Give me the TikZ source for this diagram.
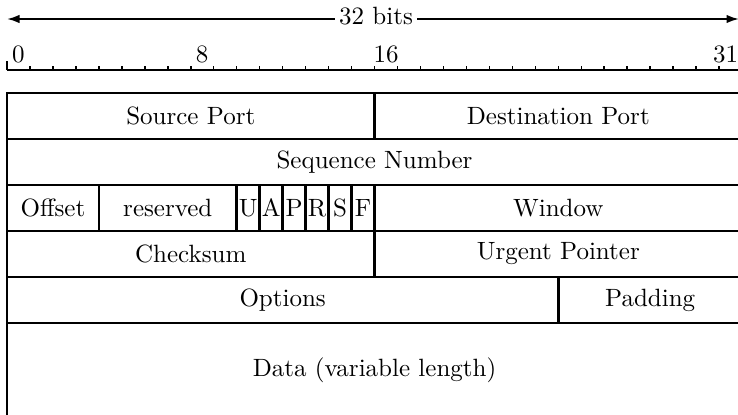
\documentclass[tikz,border=0pt]{standalone}
\usetikzlibrary{arrows.meta}

% one bit = 22.97 units (9.188pt), one header row = 46 units (18.4pt)
\newcommand\fieldbox[5]{%
  \node[cell, minimum width={#3*9.188pt}] (#1) at ({7+#2*22.97},#4) {#5};}

\begin{document}
\begin{tikzpicture}[x=0.4pt,y=-0.4pt,
  cell/.style={draw, line width=1.1pt, rectangle, inner sep=0pt, outer sep=0pt,
    anchor=north west, minimum height=18.4pt},
  rulerline/.style={line width=0.8pt},
  bittick/.style={line width=0.6pt},
  bitnum/.style={anchor=base, inner sep=0pt},
  span/.style={line width=0.8pt, -{Latex[length=5pt,width=3.4pt]}},
]
\useasboundingbox (0,0) rectangle (738,414);

% width arrow
\node[anchor=base, inner sep=1.5pt] (bits) at (376,24) {32 bits};
\coordinate (la) at (7,19);
\coordinate (ra) at (739,19);
\draw[span] (bits.west |- la) -- (la);
\draw[span] (bits.east |- ra) -- (ra);

% bit ruler
\coordinate (r0) at (7,70);
\coordinate (rend) at (760,70);
\draw[rulerline] (r0) -- (rend);
\draw[rulerline] (r0) -- ++(0,-9);
\foreach \i in {1,...,31}
  \draw[bittick] ({7+\i*22.97},70) -- ++(0,-4.5);
\foreach \k in {0,8,16}
  \node[bitnum] (n\k) at ({7+(\k+0.5)*22.97},62) {\k};
\node[bitnum] (n31) at (725.5,62) {31};

% header fields
\fieldbox{src}{0}{16}{93}{Source Port}
\fieldbox{dst}{16}{16}{93}{Destination Port}
\fieldbox{seq}{0}{32}{139}{Sequence Number}
\fieldbox{off}{0}{4}{185}{Offset}
\fieldbox{res}{4}{6}{185}{reserved}
\fieldbox{fu}{10}{1}{185}{U}
\fieldbox{fa}{11}{1}{185}{A}
\fieldbox{fp}{12}{1}{185}{P}
\fieldbox{fr}{13}{1}{185}{R}
\fieldbox{fs}{14}{1}{185}{S}
\fieldbox{ff}{15}{1}{185}{F}
\fieldbox{win}{16}{16}{185}{Window}
\fieldbox{chk}{0}{16}{231}{Checksum}
\fieldbox{urg}{16}{16}{231}{Urgent Pointer}
\fieldbox{opt}{0}{24}{277}{Options}
\fieldbox{pad}{24}{8}{277}{Padding}
\node[cell, minimum width={32*9.188pt}, minimum height=37.6pt] (data)
  at (7,323) {Data (variable length)};
\end{tikzpicture}
\end{document}
